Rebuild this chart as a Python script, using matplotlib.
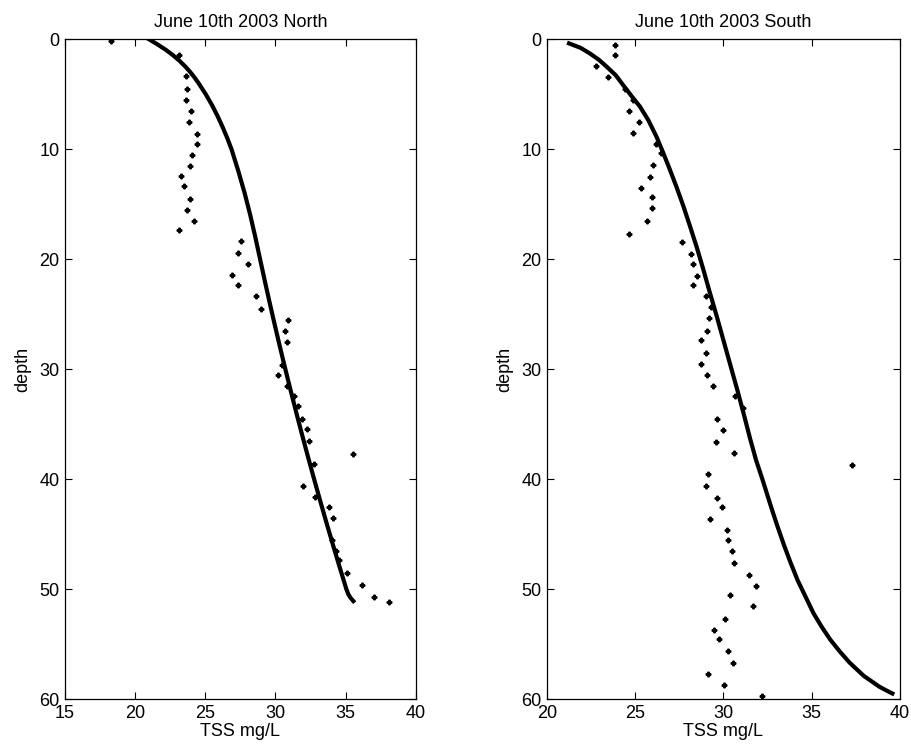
import matplotlib
matplotlib.use("Agg")
import matplotlib.pyplot as plt

plt.rcParams['font.family'] = ['Liberation Sans', 'DejaVu Sans']
plt.rcParams['font.size'] = 13

# north profile: measured points (TSS mg/L, depth)
north_tss = [18.3, 23.1, 23.6, 23.7, 23.6, 24.0, 23.8, 24.4, 24.4, 24.05,
             23.9, 23.3, 23.5, 23.9, 23.7, 24.2, 23.1, 27.55, 27.3, 28.05,
             26.9, 27.35, 28.6, 29.0, 30.9, 30.65, 30.8, 30.45, 30.2, 30.8,
             31.35, 31.6, 31.9, 32.25, 32.4, 35.5, 32.75, 31.95, 32.8, 33.8,
             34.1, 34.0, 34.3, 34.5, 35.1, 36.2, 37.05, 38.1]
north_depth = [0.15, 1.45, 3.4, 4.5, 5.5, 6.5, 7.5, 8.6, 9.55, 10.5,
               11.5, 12.45, 13.4, 14.5, 15.5, 16.5, 17.4, 18.4, 19.45, 20.45,
               21.45, 22.4, 23.4, 24.5, 25.5, 26.5, 27.5, 29.6, 30.5, 31.5,
               32.45, 33.4, 34.5, 35.45, 36.5, 37.7, 38.6, 40.6, 41.6, 42.5,
               43.5, 45.5, 46.5, 47.4, 48.5, 49.6, 50.7, 51.2]
# north fitted curve
north_fit_tss = [20.95, 21.6, 22.2, 22.72, 23.17, 23.57, 23.92, 24.23, 24.51,
                 25.02, 25.47, 25.87, 26.23, 26.56, 26.86, 27.35, 27.8, 28.2,
                 28.56, 28.9, 29.24, 29.59, 29.95, 30.32, 30.7, 31.09, 31.49,
                 31.9, 32.32, 32.75, 33.19, 33.64, 34.1, 34.57, 35.05, 35.2,
                 35.35, 35.55]
north_fit_depth = [0.0, 0.5, 1.0, 1.5, 2.0, 2.5, 3.0, 3.5, 4.0,
                   5.0, 6.0, 7.0, 8.0, 9.0, 10.0, 12.0, 14.0, 16.0,
                   18.0, 20.0, 22.0, 24.0, 26.0, 28.0, 30.0, 32.0, 34.0,
                   36.0, 38.0, 40.0, 42.0, 44.0, 46.0, 48.0, 50.0, 50.5,
                   50.8, 51.1]

# south profile: measured points
south_tss = [23.85, 23.85, 22.8, 23.45, 24.4, 24.9, 24.65, 25.2, 24.9, 26.15,
             26.45, 26.0, 25.85, 25.3, 25.95, 25.95, 25.65, 24.65, 27.65, 28.15,
             28.3, 28.5, 28.3, 29.0, 29.3, 29.2, 29.05, 28.75, 29.0, 28.7,
             29.05, 29.4, 30.65, 31.1, 29.65, 29.95, 29.55, 30.6, 37.3, 29.15,
             29.0, 29.65, 29.9, 29.25, 30.2, 30.25, 30.5, 30.6, 31.45, 31.85,
             30.35, 31.65, 30.1, 29.45, 29.75, 30.25, 30.55, 29.15, 30.05, 32.2]
south_depth = [0.5, 1.45, 2.45, 3.45, 4.5, 5.5, 6.5, 7.55, 8.55, 9.5,
               10.4, 11.45, 12.5, 13.5, 14.4, 15.4, 16.5, 17.7, 18.45, 19.5,
               20.45, 21.5, 22.4, 23.4, 24.4, 25.4, 26.5, 27.4, 28.5, 29.5,
               30.5, 31.5, 32.45, 33.5, 34.5, 35.5, 36.6, 37.6, 38.7, 39.5,
               40.6, 41.7, 42.5, 43.6, 44.6, 45.5, 46.5, 47.6, 48.7, 49.7,
               50.5, 51.5, 52.7, 53.7, 54.5, 55.6, 56.7, 57.7, 58.7, 59.7]
# south fitted curve
south_fit_tss = [21.25, 21.9, 22.42, 22.95, 23.37, 23.9, 24.32, 24.8, 25.27,
                 25.75, 26.21, 26.6, 26.97, 27.35, 27.73, 28.1, 28.48, 28.85,
                 29.2, 29.6, 30.0, 30.4, 30.8, 31.15, 31.52, 31.85, 32.2,
                 32.75, 33.08, 33.45, 33.8, 34.2, 34.65, 35.1, 35.55, 36.05,
                 36.6, 37.15, 37.55, 37.95, 38.4, 38.8, 39.2, 39.57]
south_fit_depth = [0.4, 0.8, 1.3, 1.9, 2.5, 3.3, 4.2, 5.2, 6.15,
                   7.4, 8.9, 10.4, 11.9, 13.5, 15.2, 17.0, 18.9, 20.9,
                   22.9, 25.1, 27.4, 29.7, 32.0, 34.1, 36.4, 38.3, 40.0,
                   42.8, 44.4, 46.1, 47.6, 49.2, 50.7, 52.2, 53.4, 54.6,
                   55.7, 56.7, 57.3, 57.9, 58.4, 58.85, 59.2, 59.5]

fig = plt.figure(figsize=(9.11, 7.53), dpi=100)
ax1 = fig.add_axes([0.0714, 0.0717, 0.385, 0.8765])
ax2 = fig.add_axes([0.6004, 0.0717, 0.3875, 0.8765])

panels = [
    (ax1, north_tss, north_depth, north_fit_tss, north_fit_depth,
     "June 10th 2003 North", (15, 40), [15, 20, 25, 30, 35, 40]),
    (ax2, south_tss, south_depth, south_fit_tss, south_fit_depth,
     "June 10th 2003 South", (20, 40), [20, 25, 30, 35, 40]),
]

for ax, tss, depth, ftss, fdepth, title, xlim, xticks in panels:
    ax.plot(tss, depth, linestyle='none', marker='P', markersize=3.3,
            color='black')
    ax.plot(ftss, fdepth, color='black', linewidth=3, solid_joinstyle='round')
    ax.set_xlim(*xlim)
    ax.set_ylim(60, 0)
    ax.set_xticks(xticks)
    ax.set_yticks([0, 10, 20, 30, 40, 50, 60])
    ax.tick_params(direction='in', top=True, right=True, length=5, width=0.8,
                   labelsize=13, pad=4)
    for s in ax.spines.values():
        s.set_linewidth(0.9)
    ax.set_title(title, fontsize=13, pad=9)
    ax.set_xlabel("TSS mg/L", fontsize=13, labelpad=1)
    ax.set_ylabel("depth", fontsize=13, labelpad=6)

fig.savefig("out.png", dpi=100)
